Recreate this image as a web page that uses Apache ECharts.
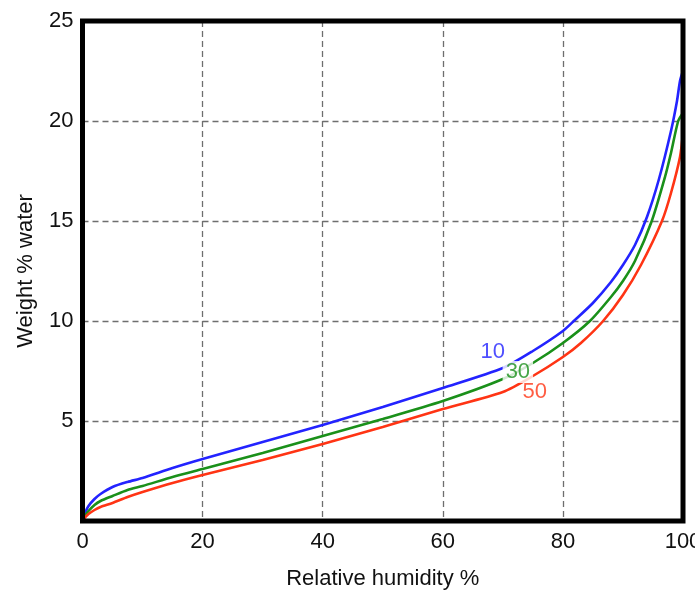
<!DOCTYPE html>
<html><head><meta charset="utf-8">
<script src="https://cdn.jsdelivr.net/npm/echarts@6/dist/echarts.min.js"></script>
<style>html,body{margin:0;padding:0;background:#fff}#c{width:695px;height:592px}</style>
</head><body><div id="c"></div>
<script>
const rh10 = [0,0.5,1,2,3,5,7.5,10,15,20,30,40,50,60,70,75,80,82,85,88,90,92,94,96,98,99,99.5,100];
const w10  = [0,0.45,0.75,1.1,1.35,1.7,1.95,2.15,2.65,3.1,3.95,4.8,5.7,6.65,7.65,8.5,9.5,10.05,10.9,11.95,12.8,13.8,15.2,17.1,19.5,21.0,22.0,22.5];
const rh30 = [0,0.5,1,2,3,5,7.5,10,15,20,30,40,50,60,70,75,80,84.5,88,90,92,94.8,97,98,99.2,100];
const w30  = [0,0.3,0.5,0.8,1.0,1.25,1.55,1.75,2.2,2.6,3.4,4.25,5.1,6.0,7.1,7.9,8.9,10.0,11.2,12.0,13.0,15.0,17.2,18.4,20.0,20.4];
const rh50 = [0,0.5,1,2,3,5,7.5,10,15,20,30,40,50,60,70,75,80,83,86.7,90,93,96.5,98,99.5,100];
const w50  = [0,0.2,0.35,0.55,0.7,0.9,1.2,1.45,1.9,2.3,3.05,3.85,4.7,5.6,6.45,7.25,8.2,8.9,10.0,11.3,12.8,15.0,16.4,18.2,19.4];
const labelText = ['10','30','50'];
const labelX = [68.3,72.5,75.3];
const labelY = [8.45,7.45,6.45];
const xTicks = [0,20,40,60,80,100];
const yTicks = [5,10,15,20,25];
const colors = ['#2323ff','#1a901a','#ff3414'];

const zip = (a,b)=>a.map((v,i)=>[v,b[i]]);
const chart = echarts.init(document.getElementById('c'));
const font = 'Liberation Sans, Arial, sans-serif';
const gridLine = {show:true,lineStyle:{color:'#6e6e6e',type:[6,4],width:1.3}};
const lineSeries = (x,y,c)=>({type:'line',data:zip(x,y),smooth:0.25,showSymbol:false,
  lineStyle:{color:c,width:2.6},z:2});
chart.setOption({
  animation:false,
  grid:{left:82.5,top:21,width:600.5,height:500,outerBoundsMode:'none',containLabel:false,
    show:true,borderWidth:5,borderColor:'#000',backgroundColor:'transparent',z:3},
  xAxis:{type:'value',min:0,max:100,interval:20,
    axisLine:{show:false},axisTick:{show:false},splitLine:gridLine,
    axisLabel:{color:'#111',fontSize:22,fontFamily:font,margin:10,
      formatter:v=>xTicks.includes(v)?String(v):''},
    name:'Relative humidity %',nameLocation:'middle',nameGap:47,
    nameTextStyle:{color:'#111',fontSize:22,fontFamily:font}},
  yAxis:{type:'value',min:0,max:25,interval:5,
    axisLine:{show:false},axisTick:{show:false},splitLine:gridLine,
    axisLabel:{color:'#111',fontSize:22,fontFamily:font,margin:9,
      formatter:v=>yTicks.includes(v)?String(v):''},
    name:'Weight % water',nameLocation:'middle',nameGap:46,
    nameTextStyle:{color:'#111',fontSize:22,fontFamily:font}},
  series:[
    lineSeries(rh10,w10,colors[0]),
    lineSeries(rh30,w30,colors[1]),
    lineSeries(rh50,w50,colors[2]),
    {type:'scatter',symbolSize:0,z:5,
      data:labelText.map((t,i)=>({value:[labelX[i],labelY[i]],
        label:{show:true,position:'inside',formatter:t,color:colors[i],fontSize:22,fontFamily:font,
          backgroundColor:i===1?'#fff':'transparent',padding:i===1?[0,3]:0}}))}
  ]
});
</script></body></html>
